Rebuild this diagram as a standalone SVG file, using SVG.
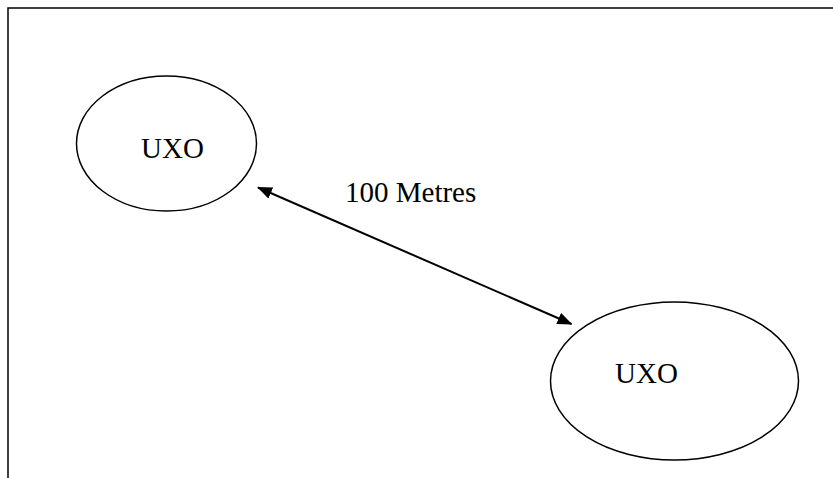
<svg xmlns="http://www.w3.org/2000/svg" width="833" height="478" viewBox="0 0 833 478">
  <style>
    .frame { fill: none; stroke: #000; stroke-width: 1.5; }
    .node { fill: #fff; stroke: #000; stroke-width: 1.5; }
    .label { font-family: "Liberation Serif", "Times New Roman", serif; font-size: 29px; fill: #000; }
    .link { stroke: #000; stroke-width: 2; fill: none; }
  </style>
  <defs>
    <marker id="arrow" viewBox="0 0 15 12" refX="14" refY="6" markerWidth="15" markerHeight="12" markerUnits="userSpaceOnUse" orient="auto-start-reverse">
      <path d="M0,0 L15,6 L0,12 Z" fill="#000"/>
    </marker>
  </defs>
  <rect width="833" height="478" fill="#fff"/>
  <!-- page frame: top and left edges only -->
  <path class="frame" d="M8,478 V8 H833"/>

  <g id="uxo-1">
    <ellipse class="node" cx="166.5" cy="143.5" rx="90" ry="67.5"/>
    <text class="label" x="141" y="158">UXO</text>
  </g>

  <g id="uxo-2">
    <ellipse class="node" cx="674.5" cy="381" rx="124" ry="79"/>
    <text class="label" x="615" y="383">UXO</text>
  </g>

  <g id="connectors">
    <line class="link" x1="258" y1="187.5" x2="571.5" y2="324" marker-start="url(#arrow)" marker-end="url(#arrow)"/>
    <text class="label" x="345" y="202">100 Metres</text>
  </g>
</svg>
